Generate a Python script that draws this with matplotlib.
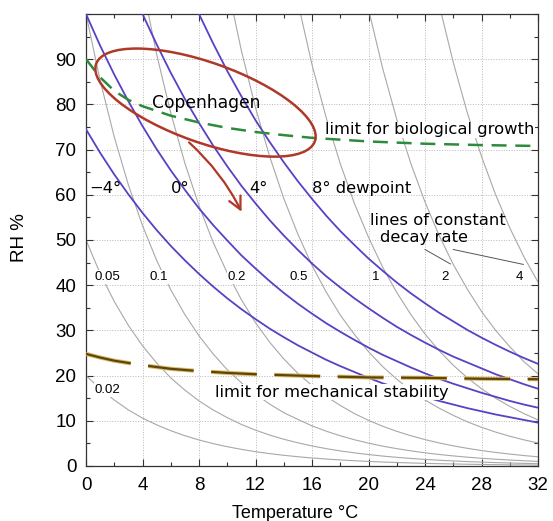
import numpy as np
import matplotlib
matplotlib.use("Agg")
import matplotlib.pyplot as plt
from matplotlib.patches import Ellipse, FancyArrowPatch
from matplotlib.transforms import ScaledTranslation

# ---- data ----
temps = list(range(0, 33))  # temperature, degC

# constant-dewpoint lines (RH %), dewpoints -4, 0, 4, 8 degC
dewpoints = [-4, 0, 4, 8]
dp_m4 = [74.5, 69.3, 64.5, 60.1, 56.0, 52.2, 48.7, 45.5, 42.5, 39.7, 37.1, 34.7, 32.5, 30.4, 28.5, 26.7,
         25.1, 23.5, 22.1, 20.8, 19.5, 18.3, 17.3, 16.2, 15.3, 14.4, 13.6, 12.8, 12.1, 11.4, 10.8, 10.2, 9.59]
dp_0 = [100.0, 93.0, 86.6, 80.7, 75.2, 70.1, 65.4, 61.1, 57.0, 53.3, 49.9, 46.6, 43.7, 40.9, 38.3, 35.9,
        33.7, 31.6, 29.7, 27.9, 26.2, 24.6, 23.2, 21.8, 20.5, 19.3, 18.2, 17.2, 16.2, 15.3, 14.4, 13.6, 12.9]
dp_4 = [None, None, None, 107.3, 100.0, 93.3, 87.0, 81.2, 75.9, 70.9, 66.3, 62.0, 58.1, 54.4, 51.0, 47.8,
        44.8, 42.0, 39.5, 37.1, 34.9, 32.8, 30.8, 29.0, 27.3, 25.7, 24.2, 22.9, 21.6, 20.3, 19.2, 18.1, 17.1]
dp_8 = [None, None, None, None, None, None, None, 107.1, 100.0, 93.5, 87.4, 81.8, 76.5, 71.7, 67.2, 63.0,
        59.1, 55.4, 52.0, 48.9, 45.9, 43.2, 40.6, 38.2, 36.0, 33.9, 32.0, 30.1, 28.4, 26.8, 25.3, 23.9, 22.6]

# lines of constant decay rate (RH %)
rates = ['0.02', '0.05', '0.1', '0.2', '0.5', '1', '2', '4']
r_002 = [20.0, 17.1, 14.6, 12.4, 10.6, 9.11, 7.81, 6.70, 5.76, 4.95, 4.27, 3.68, 3.17, 2.74, 2.37, 2.05,
         1.78, 1.54, 1.34, 1.16, 1.01, 0.88, 0.77, 0.67, 0.58, 0.51, 0.45, 0.39, 0.34, 0.30, 0.26, 0.23, 0.20]
r_005 = [50.0, 42.6, 36.4, 31.1, 26.6, 22.8, 19.5, 16.8, 14.4, 12.4, 10.7, 9.19, 7.93, 6.85, 5.92, 5.13,
         4.44, 3.85, 3.34, 2.91, 2.53, 2.20, 1.92, 1.67, 1.46, 1.28, 1.12, 0.98, 0.86, 0.75, 0.66, 0.58, 0.51]
r_01 = [100.0, 85.3, 72.8, 62.2, 53.2, 45.5, 39.0, 33.5, 28.8, 24.8, 21.3, 18.4, 15.9, 13.7, 11.8, 10.3,
        8.88, 7.71, 6.69, 5.81, 5.06, 4.40, 3.84, 3.35, 2.92, 2.55, 2.23, 1.95, 1.71, 1.50, 1.32, 1.16, 1.02]
r_02 = [None, None, None, None, 106.4, 91.1, 78.1, 67.0, 57.6, 49.5, 42.7, 36.8, 31.7, 27.4, 23.7, 20.5,
        17.8, 15.4, 13.4, 11.6, 10.1, 8.80, 7.67, 6.69, 5.84, 5.10, 4.46, 3.91, 3.42, 3.00, 2.64, 2.31, 2.04]
r_05 = [None, None, None, None, None, None, None, None, None, None, 106.6, 91.9, 79.3, 68.5, 59.2, 51.3,
        44.4, 38.5, 33.4, 29.1, 25.3, 22.0, 19.2, 16.7, 14.6, 12.8, 11.2, 9.77, 8.56, 7.51, 6.59, 5.79, 5.09]
r_1 = [None, None, None, None, None, None, None, None, None, None, None, None, None, None, None, 102.6,
       88.8, 77.1, 66.9, 58.1, 50.6, 44.0, 38.4, 33.5, 29.2, 25.5, 22.3, 19.5, 17.1, 15.0, 13.2, 11.6, 10.2]
r_2 = [None, None, None, None, None, None, None, None, None, None, None, None, None, None, None, None,
       None, None, None, None, 101.1, 88.0, 76.7, 66.9, 58.4, 51.0, 44.6, 39.1, 34.2, 30.0, 26.4, 23.1, 20.4]
r_4 = [None, None, None, None, None, None, None, None, None, None, None, None, None, None, None, None,
       None, None, None, None, None, None, None, None, None, 102.1, 89.3, 78.1, 68.5, 60.0, 52.7, 46.3, 40.7]

# rate label positions (temperature) on the RH ~42 row
rate_lab_T = [1.5, 5.17, 10.67, 15.03, 20.53, 25.4, 30.7]

# limit curves
bio_T = [0, 1, 2, 3, 4, 6, 8, 10, 12, 14, 16, 20, 24, 28, 32]
bio_RH = [90, 86, 83, 81, 79.6, 77.5, 76, 74.8, 73.9, 73.2, 72.6, 71.8, 71.3, 71.0, 70.8]
mech_T = [0, 1, 2, 4, 6, 8, 10, 12, 14, 16, 20, 24, 28, 32]
mech_RH = [24.8, 24.0, 23.3, 22.3, 21.5, 21.0, 20.6, 20.3, 20.1, 19.9, 19.6, 19.5, 19.3, 19.2]

# Copenhagen climate envelope centre (T, RH) and arrow ends
cph_center = (8.46, 80.4)
arrow_start = (7.15, 72.0)
arrow_end = (11.1, 55.7)

# ---- figure ----
W, H = 553, 521
fig = plt.figure(figsize=(W/100, H/100), dpi=100)
ax = fig.add_axes([86/W, 1-466/H, (538-86)/W, (466-14)/H])
ax.set_xlim(0, 32)
ax.set_ylim(0, 100)
ax.set_xticks(range(0, 33, 4))
ax.set_xticks(range(0, 33, 2), minor=True)
ax.set_yticks(range(0, 91, 10))
ax.set_yticks(range(0, 101, 5), minor=True)
tf = 'Liberation Sans'
ax.tick_params(which='both', direction='in', top=True, right=True, width=0.8, color='#333333')
ax.tick_params(which='major', length=5, labelsize=13.5)
ax.tick_params(which='minor', length=3)
ax.tick_params(axis='y', pad=7)
ax.tick_params(axis='x', pad=8)
for lab in ax.get_xticklabels() + ax.get_yticklabels():
    lab.set_fontfamily(tf)
for sp in ax.spines.values():
    sp.set_color('#333333')
    sp.set_linewidth(0.9)
ax.grid(True, which='major', linestyle=':', color='#b8b8b8', linewidth=0.7, zorder=0)
ax.set_axisbelow(True)

T = np.array(temps, dtype=float)
for v in [r_002, r_005, r_01, r_02, r_05, r_1, r_2, r_4]:
    ax.plot(T, np.array(v, dtype=float), color='#a8a8a8', lw=0.8, zorder=2)
for v in [dp_m4, dp_0, dp_4, dp_8]:
    ax.plot(T, np.array(v, dtype=float), color='#5b3fc4', lw=1.3, zorder=3)

ax.plot(bio_T, bio_RH, color='#2e8b3e', lw=1.8, dashes=(6, 3.5), zorder=5)
ax.plot(mech_T, mech_RH, color='#d9bb60', lw=3.0, dashes=(11, 4.2), zorder=5)
ax.plot(mech_T, mech_RH, color='#5e4410', lw=1.6, dashes=(20.6, 7.9), zorder=5.1)

af = 'DejaVu Sans'
fs = 11.8
lbl_bbox = dict(facecolor='white', edgecolor='none', pad=0.5)
for s, x in zip(rates[1:], rate_lab_T):
    ax.text(x, 41.8, s, fontsize=9.5, family=tf, ha='center', va='center', bbox=lbl_bbox, zorder=4)
ax.text(1.5, 16.8, rates[0], fontsize=9.5, family=tf, ha='center', va='center', bbox=lbl_bbox, zorder=4)

wb = dict(facecolor='white', edgecolor='none', pad=0.3)
ax.text(16.92, 73.4, 'limit for biological growth', fontsize=fs, family=af, ha='left', va='baseline',
        bbox=wb, zorder=4)
ax.text(9.13, 15.3, 'limit for mechanical stability', fontsize=fs, family=af, ha='left', va='baseline',
        bbox=wb, zorder=4)
for td, x in zip(dewpoints[:3], [1.4, 6.65, 12.2]):
    ax.text(x, 61.5, ('%d\u00b0' % td).replace('-', '\u2212'), fontsize=fs, family=af,
            ha='center', va='center', zorder=7)
ax.text(15.98, 61.5, '%d\u00b0 dewpoint' % dewpoints[3], fontsize=fs, family=af, ha='left', va='center', zorder=7)
ax.text(20.1, 53.4, 'lines of constant', fontsize=fs, family=af, ha='left', va='baseline', zorder=7)
ax.text(20.8, 49.6, 'decay rate', fontsize=fs, family=af, ha='left', va='baseline', zorder=7)
ax.plot([24.0, 25.8], [47.9, 44.7], color='#555555', lw=0.7, zorder=7)
ax.plot([26.0, 30.96], [47.9, 44.6], color='#555555', lw=0.7, zorder=7)
ax.text(8.5, 80.3, 'Copenhagen', fontsize=12.3, family=af, ha='center', va='center', zorder=8)

red = '#b03828'
ell = Ellipse((0, 0), width=2.32, height=0.80, angle=-19.5, fill=False, edgecolor=red, lw=1.8,
              transform=fig.dpi_scale_trans + ScaledTranslation(cph_center[0], cph_center[1], ax.transData),
              zorder=7)
ax.add_patch(ell)
arr = FancyArrowPatch(arrow_start, arrow_end, connectionstyle='arc3,rad=-0.1',
                      arrowstyle='->,head_length=0.6,head_width=0.3', mutation_scale=15,
                      color=red, lw=1.6, zorder=7)
ax.add_patch(arr)

fig.text(295/W, 1-518/H, 'Temperature \u00b0C', fontsize=13, family=tf, ha='center', va='baseline')
fig.text(20/W, 1-238/H, 'RH %', fontsize=13.5, family=tf, rotation=90, ha='center', va='center')

fig.savefig('out.png', dpi=100)
